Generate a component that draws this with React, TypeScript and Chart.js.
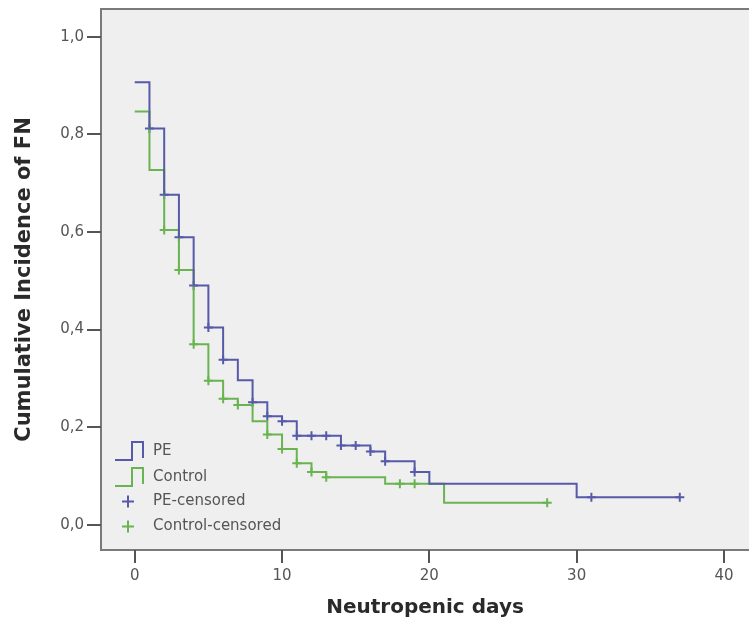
import React, { useEffect, useRef } from "react";
import { Chart, registerables } from "chart.js";

Chart.register(...registerables);

// ---- Data ----
const peTimes = [0, 1, 2, 3, 4, 5, 6, 7, 8, 9, 10, 11, 14, 16, 17, 19, 20, 30, 37];
const peValues = [0.907, 0.812, 0.676, 0.589, 0.49, 0.404, 0.338, 0.296, 0.251, 0.222, 0.212, 0.182, 0.162, 0.15, 0.13, 0.108, 0.084, 0.056, 0.056];

const controlTimes = [0, 1, 2, 3, 4, 5, 6, 7, 8, 9, 10, 11, 12, 13, 17, 21, 28];
const controlValues = [0.847, 0.727, 0.604, 0.522, 0.37, 0.295, 0.258, 0.245, 0.212, 0.185, 0.155, 0.126, 0.108, 0.097, 0.084, 0.045, 0.045];

const peCensorTimes = [1, 2, 3, 4, 5, 6, 8, 9, 10, 11, 12, 13, 14, 15, 16, 17, 19, 31, 37];
const peCensorValues = [0.812, 0.676, 0.589, 0.49, 0.404, 0.338, 0.251, 0.222, 0.212, 0.182, 0.182, 0.182, 0.162, 0.162, 0.15, 0.13, 0.108, 0.056, 0.056];

const controlCensorTimes = [2, 3, 4, 5, 6, 7, 9, 10, 11, 12, 13, 18, 19, 28];
const controlCensorValues = [0.604, 0.522, 0.37, 0.295, 0.258, 0.245, 0.185, 0.155, 0.126, 0.108, 0.097, 0.084, 0.084, 0.045];

const xTickValues = [0, 10, 20, 30, 40];
const yTickValues = [0, 0.2, 0.4, 0.6, 0.8, 1.0];

const legendLabels = ["PE", "Control", "PE-censored", "Control-censored"];

const xTitle = "Neutropenic days";
const yTitle = "Cumulative Incidence of FN";

// ---- Styles ----
const BLUE = "#565aa9";
const GREEN = "#69b450";
const FONT = "DejaVu Sans";

const toPoints = (xs: number[], ys: number[]) => xs.map((x, i) => ({ x, y: ys[i] }));

export default function App() {
  const ref = useRef<HTMLCanvasElement | null>(null);

  useEffect(() => {
    document.body.style.margin = "0";
    const canvas = ref.current;
    if (!canvas) return;

    const backgroundPlugin = {
      id: "bgFrame",
      beforeDraw(chart: any) {
        const { ctx, chartArea: a } = chart;
        ctx.save();
        ctx.fillStyle = "#ffffff";
        ctx.fillRect(0, 0, chart.width, chart.height);
        ctx.fillStyle = "#efefef";
        ctx.fillRect(a.left, a.top, chart.width - a.left, a.bottom - a.top);
        ctx.strokeStyle = "#7a7a7a";
        ctx.lineWidth = 2;
        ctx.beginPath();
        ctx.moveTo(chart.width, a.top);
        ctx.lineTo(a.left, a.top);
        ctx.lineTo(a.left, a.bottom);
        ctx.lineTo(chart.width, a.bottom);
        ctx.stroke();
        ctx.restore();
      },
    };

    const legendPlugin = {
      id: "customLegend",
      afterDatasetsDraw(chart: any) {
        const { ctx, chartArea: a } = chart;
        const x0 = a.left + 14;
        const rows = [a.bottom - 99, a.bottom - 73, a.bottom - 48.5, a.bottom - 23.5];
        const colors = [BLUE, GREEN, BLUE, GREEN];
        ctx.save();
        ctx.lineWidth = 2;
        for (let i = 0; i < 4; i++) {
          const cy = rows[i];
          ctx.strokeStyle = colors[i];
          ctx.beginPath();
          if (i < 2) {
            ctx.moveTo(x0, cy + 9);
            ctx.lineTo(x0 + 17, cy + 9);
            ctx.lineTo(x0 + 17, cy - 9);
            ctx.lineTo(x0 + 28, cy - 9);
            ctx.lineTo(x0 + 28, cy + 7);
          } else {
            const cx = x0 + 13;
            ctx.moveTo(cx - 6, cy);
            ctx.lineTo(cx + 6, cy);
            ctx.moveTo(cx, cy - 6);
            ctx.lineTo(cx, cy + 6);
          }
          ctx.stroke();
          ctx.fillStyle = "#555555";
          ctx.font = `15px "${FONT}"`;
          ctx.textBaseline = "middle";
          ctx.textAlign = "left";
          ctx.fillText(legendLabels[i], x0 + 38, cy);
        }
        ctx.restore();
      },
    };

    const chart = new Chart(canvas, {
      type: "line",
      data: {
        datasets: [
          {
            label: "PE",
            data: toPoints(peTimes, peValues),
            borderColor: BLUE,
            borderWidth: 2,
            stepped: true,
            pointRadius: 0,
            fill: false,
          },
          {
            label: "Control",
            data: toPoints(controlTimes, controlValues),
            borderColor: GREEN,
            borderWidth: 2,
            stepped: true,
            pointRadius: 0,
            fill: false,
          },
          {
            label: "PE-censored",
            data: toPoints(peCensorTimes, peCensorValues),
            showLine: false,
            borderColor: BLUE,
            pointStyle: "cross",
            pointRadius: 4.5,
            pointBorderWidth: 2,
            pointBorderColor: BLUE,
          },
          {
            label: "Control-censored",
            data: toPoints(controlCensorTimes, controlCensorValues),
            showLine: false,
            borderColor: GREEN,
            pointStyle: "cross",
            pointRadius: 4.5,
            pointBorderWidth: 2,
            pointBorderColor: GREEN,
          },
        ],
      },
      options: {
        responsive: false,
        animation: false,
        devicePixelRatio: 1,
        layout: { autoPadding: false, padding: { top: 9, right: 0, left: 0, bottom: 0 } },
        plugins: {
          legend: { display: false },
          tooltip: { enabled: false },
        },
        scales: {
          x: {
            type: "linear",
            min: -2.29,
            max: 41.7,
            afterFit: (s: any) => {
              s.height = 74;
              s.paddingLeft = 0;
              s.paddingRight = 0;
            },
            afterBuildTicks: (s: any) => {
              s.ticks = xTickValues.map((v) => ({ value: v }));
            },
            ticks: {
              color: "#555555",
              font: { family: FONT, size: 15 },
              padding: 4,
              autoSkip: false,
              maxRotation: 0,
              callback: (v: any) => String(v),
            },
            grid: {
              drawOnChartArea: false,
              tickLength: 13,
              color: "#555555",
              lineWidth: 2,
            },
            border: { display: false },
            title: {
              display: true,
              text: xTitle,
              color: "#2a2a2a",
              font: { family: FONT, size: 20, weight: "bold" },
              padding: { top: 0, bottom: 4 },
            },
          },
          y: {
            type: "linear",
            min: -0.052,
            max: 1.057,
            afterFit: (s: any) => {
              s.width = 101;
              s.paddingTop = 0;
              s.paddingBottom = 0;
            },
            afterBuildTicks: (s: any) => {
              s.ticks = yTickValues.map((v) => ({ value: v }));
            },
            ticks: {
              color: "#555555",
              font: { family: FONT, size: 15 },
              padding: 3,
              callback: (v: any) => Number(v).toFixed(1).replace(".", ","),
            },
            grid: {
              drawOnChartArea: false,
              tickLength: 14,
              color: "#555555",
              lineWidth: 2,
            },
            border: { display: false },
            title: {
              display: true,
              text: yTitle,
              color: "#2a2a2a",
              font: { family: FONT, size: 21, weight: "bold" },
              padding: { top: 12, bottom: 0 },
            },
          },
        },
      },
      plugins: [backgroundPlugin, legendPlugin],
    } as any);

    return () => {
      chart.destroy();
    };
  }, []);

  return (
    <div style={{ position: "absolute", left: 0, top: 0, width: 749, height: 624 }}>
      <canvas ref={ref} width={749} height={624} style={{ width: 749, height: 624, display: "block" }} />
    </div>
  );
}
